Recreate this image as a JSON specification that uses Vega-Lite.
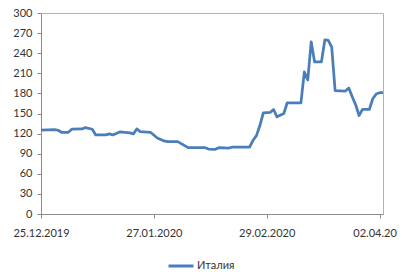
{
  "$schema": "https://vega.github.io/schema/vega-lite/v6.json",
  "width": 342,
  "height": 201,
  "autosize": {"type": "none"},
  "padding": {"left": 41, "top": 13, "right": 19, "bottom": 58},
  "background": "white",
  "config": {
    "font": "Lato",
    "view": {"stroke": "#9BB7D9", "strokeWidth": 1},
    "axis": {"labelFont": "Lato", "labelFontSize": 11, "labelColor": "#333333", "domainColor": "#8C8C8C", "tickColor": "#8C8C8C", "grid": false, "title": null}
  },
  "data": {"values": [
    {"date": "2019-12-25", "value": 125, "country": "Италия"},
    {"date": "2019-12-29", "value": 126, "country": "Италия"},
    {"date": "2019-12-30", "value": 125, "country": "Италия"},
    {"date": "2019-12-31", "value": 122, "country": "Италия"},
    {"date": "2020-01-02", "value": 122, "country": "Италия"},
    {"date": "2020-01-03", "value": 126.5, "country": "Италия"},
    {"date": "2020-01-06", "value": 127, "country": "Италия"},
    {"date": "2020-01-07", "value": 129, "country": "Италия"},
    {"date": "2020-01-09", "value": 126.5, "country": "Италия"},
    {"date": "2020-01-10", "value": 118, "country": "Италия"},
    {"date": "2020-01-13", "value": 118, "country": "Италия"},
    {"date": "2020-01-14", "value": 119.5, "country": "Италия"},
    {"date": "2020-01-15", "value": 118, "country": "Италия"},
    {"date": "2020-01-17", "value": 122.5, "country": "Италия"},
    {"date": "2020-01-20", "value": 121, "country": "Италия"},
    {"date": "2020-01-21", "value": 119.5, "country": "Италия"},
    {"date": "2020-01-22", "value": 127, "country": "Италия"},
    {"date": "2020-01-23", "value": 123, "country": "Италия"},
    {"date": "2020-01-26", "value": 122, "country": "Италия"},
    {"date": "2020-01-28", "value": 113.5, "country": "Италия"},
    {"date": "2020-01-30", "value": 109, "country": "Италия"},
    {"date": "2020-01-31", "value": 108, "country": "Италия"},
    {"date": "2020-02-03", "value": 108, "country": "Италия"},
    {"date": "2020-02-06", "value": 99, "country": "Италия"},
    {"date": "2020-02-11", "value": 99, "country": "Италия"},
    {"date": "2020-02-12", "value": 97, "country": "Италия"},
    {"date": "2020-02-14", "value": 96.5, "country": "Италия"},
    {"date": "2020-02-15", "value": 99, "country": "Италия"},
    {"date": "2020-02-18", "value": 98.5, "country": "Италия"},
    {"date": "2020-02-19", "value": 100, "country": "Италия"},
    {"date": "2020-02-24", "value": 100, "country": "Италия"},
    {"date": "2020-02-25", "value": 110, "country": "Италия"},
    {"date": "2020-02-26", "value": 117, "country": "Италия"},
    {"date": "2020-02-27", "value": 132, "country": "Италия"},
    {"date": "2020-02-28", "value": 151, "country": "Италия"},
    {"date": "2020-03-01", "value": 151.5, "country": "Италия"},
    {"date": "2020-03-02", "value": 156, "country": "Италия"},
    {"date": "2020-03-03", "value": 145, "country": "Италия"},
    {"date": "2020-03-05", "value": 150, "country": "Италия"},
    {"date": "2020-03-06", "value": 166, "country": "Италия"},
    {"date": "2020-03-10", "value": 166, "country": "Италия"},
    {"date": "2020-03-11", "value": 212, "country": "Италия"},
    {"date": "2020-03-12", "value": 200, "country": "Италия"},
    {"date": "2020-03-13", "value": 257, "country": "Италия"},
    {"date": "2020-03-14", "value": 227, "country": "Италия"},
    {"date": "2020-03-16", "value": 227, "country": "Италия"},
    {"date": "2020-03-17", "value": 260, "country": "Италия"},
    {"date": "2020-03-18", "value": 259, "country": "Италия"},
    {"date": "2020-03-19", "value": 249, "country": "Италия"},
    {"date": "2020-03-20", "value": 184, "country": "Италия"},
    {"date": "2020-03-23", "value": 183.5, "country": "Италия"},
    {"date": "2020-03-24", "value": 188, "country": "Италия"},
    {"date": "2020-03-25", "value": 175, "country": "Италия"},
    {"date": "2020-03-26", "value": 163, "country": "Италия"},
    {"date": "2020-03-27", "value": 147, "country": "Италия"},
    {"date": "2020-03-28", "value": 156, "country": "Италия"},
    {"date": "2020-03-30", "value": 156, "country": "Италия"},
    {"date": "2020-03-31", "value": 172, "country": "Италия"},
    {"date": "2020-04-01", "value": 179, "country": "Италия"},
    {"date": "2020-04-02", "value": 181, "country": "Италия"},
    {"date": "2020-04-03", "value": 181, "country": "Италия"}
  ]},
  "mark": {"type": "line", "strokeWidth": 2.75, "strokeJoin": "round", "clip": true},
  "encoding": {
    "x": {
      "field": "date", "type": "temporal",
      "scale": {"type": "utc", "domain": [{"year": 2019, "month": 12, "date": 25, "utc": true}, {"year": 2020, "month": 4, "date": 3, "utc": true}]},
      "axis": {
        "values": [
          {"year": 2019, "month": 12, "date": 25, "utc": true},
          {"year": 2020, "month": 1, "date": 27, "utc": true},
          {"year": 2020, "month": 2, "date": 29, "utc": true},
          {"year": 2020, "month": 4, "date": 2, "utc": true}
        ],
        "format": "%d.%m.%Y",
        "labelExpr": "datum.index === 1 ? '02.04.20' : datum.label",
        "labelOffset": {"condition": {"test": "datum.index === 1", "value": -5}, "value": 0},
        "tickSize": 4,
        "labelPadding": 9,
        "labelFlush": false,
        "labelOverlap": false
      }
    },
    "y": {
      "field": "value", "type": "quantitative",
      "scale": {"domain": [0, 300], "nice": false},
      "axis": {"values": [0, 30, 60, 90, 120, 150, 180, 210, 240, 270, 300], "tickSize": 4, "labelPadding": 5}
    },
    "color": {
      "field": "country", "type": "nominal",
      "scale": {"range": ["#4A7EBB"]},
      "legend": {"orient": "none", "legendX": 126, "legendY": 239, "title": null, "symbolType": "stroke", "symbolSize": 625, "symbolStrokeWidth": 3, "labelOffset": 2, "labelFont": "Lato", "labelFontSize": 11, "labelColor": "#333333"}
    }
  }
}
